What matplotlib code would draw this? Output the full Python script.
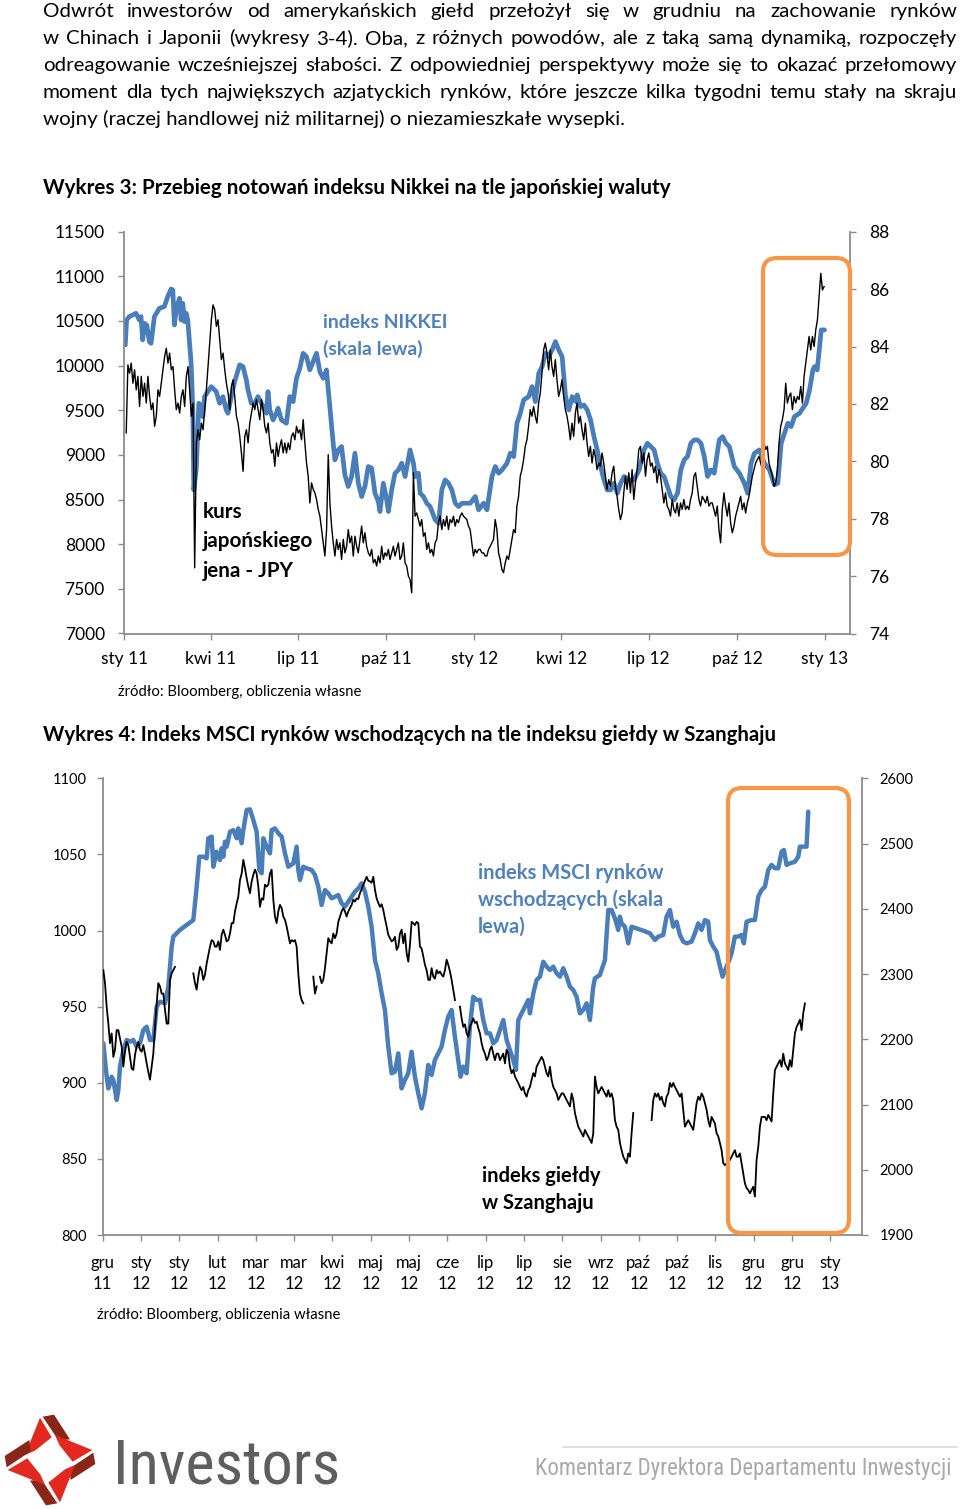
import numpy as np
import pandas as pd
import matplotlib
matplotlib.use("Agg")
import matplotlib.pyplot as plt
from matplotlib.patches import FancyBboxPatch, Polygon
from matplotlib import font_manager as fm

nan = float("nan")

# ---------------------------------------------------------------- text
body_lines = [
    "Odwrót inwestorów od amerykańskich giełd przełożył się w grudniu na zachowanie rynków",
    "w Chinach i Japonii (wykresy 3-4). Oba, z różnych powodów, ale z taką samą dynamiką, rozpoczęły",
    "odreagowanie wcześniejszej słabości. Z odpowiedniej perspektywy może się to okazać przełomowy",
    "moment dla tych największych azjatyckich rynków, które jeszcze kilka tygodni temu stały na skraju",
    "wojny (raczej handlowej niż militarnej) o niezamieszkałe wysepki.",
]
chart3_title = "Wykres 3: Przebieg notowań indeksu Nikkei na tle japońskiej waluty"
chart4_title = "Wykres 4: Indeks MSCI rynków wschodzących na tle indeksu giełdy w Szanghaju"
source_note = "źródło: Bloomberg, obliczenia własne"
nikkei_label = ["indeks NIKKEI", "(skala lewa)"]
jpy_label = ["kurs", "japońskiego", "jena - JPY"]
msci_label = ["indeks MSCI rynków", "wschodzących (skala", "lewa)"]
shanghai_label = ["indeks giełdy", "w Szanghaju"]
logo_text = "Investors"
footer_text = "Komentarz Dyrektora Departamentu Inwestycji"

# ---------------------------------------------------------------- chart 3 data
# Nikkei (left axis), days counted from 2011-01-01
nikkei_day = [
    1.0, 2.4, 5.2, 12.2, 15.7, 17.4, 19.2, 20.9, 23.4, 26.1, 27.9, 31.4, 36.6, 41.8, 45.3, 48.8,
    50.6, 52.3, 54.0, 57.5, 59.3, 61.0, 62.8, 64.5, 66.2, 69.7, 71.5, 72.5, 75.0, 77.8, 80.2, 81.9,
    83.7, 87.2, 90.7, 94.1, 95.9, 99.4, 102.9, 106.3, 108.1, 111.6, 115.1, 120.3, 123.8, 127.3,
    129.0, 132.5, 136.0, 139.5, 143.0, 148.2, 149.9, 151.7, 155.2, 158.6, 160.4, 163.9, 169.1,
    172.6, 176.1, 179.6, 183.1, 186.5, 190.0, 193.5, 197.0, 200.5, 204.0, 207.5, 210.9, 214.4,
    217.9, 219.7, 223.2, 226.6, 230.1, 233.6, 237.1, 240.6, 244.1, 247.6, 251.0, 254.5, 258.0,
    261.5, 265.0, 266.7, 270.2, 273.7, 275.5, 278.9, 282.4, 285.9, 289.4, 292.9, 298.1, 301.6,
    303.3, 306.8, 308.6, 312.1, 315.5, 319.0, 324.3, 327.8, 331.2, 334.7, 338.2, 341.7, 345.2,
    348.7, 352.2, 355.6, 360.9, 366.1, 369.6, 374.8, 378.3,
    383.5, 387.0, 390.5, 394.0, 399.2, 402.7, 406.2, 409.6, 413.1, 416.6, 421.8, 425.3, 428.8,
    432.3, 435.8, 439.2, 442.7, 446.2, 449.7, 453.2, 456.7, 460.3, 463.7, 467.2, 470.7, 472.4,
    475.9, 479.4, 482.9, 486.4, 489.9, 493.3, 496.8, 500.3, 503.8, 507.3, 510.8, 514.3, 517.8,
    521.3, 526.5, 531.7, 537.0, 542.2, 545.7, 549.2, 552.7, 556.1, 559.6, 563.1, 566.6, 570.1,
    573.6, 577.1, 580.5, 584.0, 587.5, 591.0, 594.5, 598.0, 601.5, 605.0, 608.4, 611.9, 615.4,
    620.6, 624.1, 627.6, 631.1, 636.3, 641.6, 646.8, 650.3, 653.8, 657.3, 662.5, 667.7, 673.0,
    678.2, 681.7, 685.2, 688.7, 692.2, 695.6, 699.1, 704.4, 707.8, 711.3, 714.8, 718.3, 720.0,
    722.8, 725.3, 727.0, 730.5,
]
nikkei_value = [
    10231, 10511, 10549, 10586, 10511, 10549, 10287, 10474, 10455, 10269, 10250, 10549, 10642,
    10661, 10772, 10858, 10847, 10455, 10623, 10754, 10511, 10698, 10493, 10586, 10511, 10026,
    9504, 8608, 8832, 9579, 9504, 9429, 9653, 9709, 9765, 9728, 9709, 9579, 9653, 9504, 9467,
    9653, 9821, 10008, 9989, 9840, 9728, 9579, 9579, 9653, 9579, 9467, 9709, 9504, 9392, 9467,
    9523, 9392, 9355, 9653, 9597, 9858, 9970, 10138, 10101, 9952, 10045, 10138, 9933, 9858, 9952,
    9541, 9131, 8944, 9056, 9094, 8776, 8646, 8758, 9019, 8683, 8534, 8646, 8870, 8851, 8571,
    8478, 8366, 8683, 8497, 8366, 8608, 8795, 8832, 8907, 8758, 9056, 8907, 8758, 8795, 8571,
    8534, 8459, 8422, 8273, 8235, 8608, 8720, 8683, 8608, 8459, 8422, 8459, 8459, 8459, 8534,
    8385, 8459, 8385,
    8758, 8870, 8795, 8832, 8907, 9019, 8982, 9355, 9467, 9616, 9653, 9765, 9597, 9914, 9989,
    10138, 10101, 10175, 10269, 10175, 10101, 9653, 9504, 9653, 9597, 9672, 9541, 9560, 9504,
    9392, 9205, 9056, 8870, 8720, 8608, 8608, 8683, 8571, 8683, 8758, 8720, 8720, 8832, 9056,
    9131, 9094, 9056, 8907, 8795, 8758, 8646, 8534, 8497, 8571, 8832, 8944, 8982, 9131, 9168,
    9168, 9131, 8982, 8758, 8832, 8795, 9168, 9205, 9131, 9094, 8870, 8795, 8683, 8571, 8907,
    9019, 9056, 8907, 8832, 8665, 8683, 9131, 9243, 9355, 9317, 9429, 9467, 9523, 9579, 9728,
    9952, 9989, 9952, 10213, 10400, 10400,
]
# JPY (right axis), equally spaced samples between these dates
jpy_start, jpy_end = "2011-01-03", "2012-12-31"
jpy_value = [
    80.99, 83.36, 83.07, 83.42, 82.72, 83.19, 82.49, 82.96, 81.91, 82.96,
    82.26, 82.72, 82.03, 82.96, 82.26, 81.80, 82.03, 81.22, 81.57, 82.49,
    82.26, 82.72, 83.19, 83.65, 83.94, 83.42, 83.77, 83.19, 83.30, 82.49,
    81.80, 82.03, 81.68, 82.26, 82.49, 81.91, 82.96, 83.30, 82.49, 81.57,
    82.03, 76.29, 80.64, 81.10, 80.75, 81.33, 81.10, 81.80, 82.49, 83.30,
    84.12, 84.93, 85.45, 85.28, 84.70, 84.93, 84.23, 83.54, 83.77, 83.19,
    82.72, 82.38, 81.80, 82.61, 82.84, 82.26, 81.57, 81.33, 80.87, 80.29,
    79.65, 80.87, 81.10, 80.64, 81.33, 81.68, 82.03, 81.80, 82.15, 81.80,
    81.45, 82.15, 81.80, 81.22, 80.99, 81.33, 80.64, 80.29, 80.41, 79.83,
    80.64, 80.17, 80.52, 80.75, 80.29, 80.64, 80.29, 80.64, 80.41, 80.87,
    80.99, 80.75, 81.22, 80.99, 81.10, 80.75, 81.45, 80.64, 79.94, 79.48,
    78.55, 79.25, 79.02, 78.90, 78.67, 78.32, 78.09, 77.62, 77.16, 76.70,
    77.62, 80.23, 78.55, 77.74, 77.16, 76.70, 77.28, 76.93, 77.16, 76.58,
    77.28, 76.81, 77.04, 77.62, 77.16, 77.39, 76.70, 77.39, 77.04, 76.81,
    77.28, 77.74, 77.16, 77.51, 77.04, 76.81, 76.70, 76.93, 76.46, 76.58,
    76.35, 76.70, 76.46, 77.04, 76.58, 76.81, 76.70, 76.93, 76.58, 76.81,
    77.04, 76.70, 76.93, 77.16, 76.58, 76.70, 77.16, 76.46, 76.35, 76.00,
    75.88, 75.42, 79.60, 78.09, 78.20, 77.97, 77.74, 77.97, 77.39, 77.51,
    76.93, 77.16, 76.81, 76.93, 76.70, 77.16, 77.28, 77.86, 78.09, 77.62,
    77.97, 77.74, 78.09, 77.62, 77.97, 77.86, 78.09, 77.74, 77.97, 77.86,
    78.09, 78.20, 78.09, 78.03, 77.97, 77.74, 77.62, 77.16, 76.70, 76.93,
    76.81, 76.93,
    76.93, 76.81, 76.81, 76.70, 76.70, 76.93, 77.04, 77.16, 77.28, 77.97,
    77.62, 76.81, 76.58, 76.23, 76.12, 76.46, 76.70, 76.58, 76.93, 77.28,
    77.62, 77.51, 78.44, 78.78, 79.48, 79.71, 80.06, 80.52, 80.75, 81.22,
    81.80, 81.57, 81.91, 81.57, 81.33, 82.03, 82.38, 83.07, 83.88, 84.12,
    83.77, 83.19, 83.88, 83.30, 82.96, 83.54, 82.84, 82.26, 82.49, 82.84,
    82.26, 81.80, 81.57, 81.22, 80.75, 81.33, 80.87, 81.68, 82.03, 81.33,
    81.57, 81.10, 80.75, 81.33, 80.64, 80.17, 80.52, 79.94, 80.41, 80.17,
    79.71, 79.94, 79.83, 80.29, 79.94, 79.48, 79.02, 79.36, 79.13, 79.60,
    79.83, 79.13, 78.78, 78.32, 77.97, 78.20, 78.90, 79.48, 79.02, 79.60,
    78.90, 79.71, 78.67, 79.25, 79.71, 80.41, 80.52, 79.94, 80.29, 79.48,
    80.06, 80.29, 79.83, 79.94, 79.60, 79.83, 79.25, 79.71, 79.48, 79.02,
    78.55, 78.90, 78.44, 78.32, 78.09, 78.67, 78.32, 78.20, 78.55, 78.09,
    78.55, 78.32, 78.67, 78.32, 78.44, 78.32, 78.67, 78.90, 79.48, 79.60,
    79.13, 78.67, 78.44, 78.78, 78.67, 78.55, 78.78, 78.44, 78.55, 78.55,
    78.32, 78.09, 78.44, 77.62, 77.16, 78.32, 78.90, 78.44, 78.09, 78.55,
    77.86, 77.51, 77.74, 78.09, 78.32, 78.55, 78.78, 78.32, 78.55, 78.20,
    78.55, 78.78, 79.13, 79.48, 79.71, 79.94, 80.06, 80.17, 79.94, 79.71,
    80.64, 80.41, 80.52, 79.94, 79.71, 79.48, 79.13, 79.25, 79.71, 80.64,
    81.22, 81.45, 81.80, 82.72, 82.03, 82.26, 82.38, 81.80, 82.26, 82.03,
    82.26, 82.15, 82.61, 82.03, 82.96, 83.42, 83.88, 84.35, 83.88, 84.35,
    84.00, 84.58, 84.93, 85.74, 86.55, 85.97, 86.09,
]
chart3_tick_dates = ["2011-01-01", "2011-04-01", "2011-07-01", "2011-10-01", "2012-01-01",
                     "2012-04-01", "2012-07-01", "2012-10-01", "2013-01-01"]
chart3_tick_labels = ["sty 11", "kwi 11", "lip 11", "paź 11", "sty 12", "kwi 12", "lip 12",
                      "paź 12", "sty 13"]
chart3_left_ticks = [7000, 7500, 8000, 8500, 9000, 9500, 10000, 10500, 11000, 11500]
chart3_right_ticks = [74, 76, 78, 80, 82, 84, 86, 88]

# ---------------------------------------------------------------- chart 4 data
# position measured in label steps of the category axis (0 = "gru 11")
msci_pos = [
    0.017, 0.060, 0.104, 0.147, 0.191, 0.234, 0.278, 0.321, 0.365, 0.408,
    0.452, 0.539, 0.626, 0.713, 0.800, 0.887, 0.974, 1.061, 1.148, 1.235,
    1.322, 1.409, 1.496, 1.627, 1.714, 1.801, 1.844, 2.018, 2.192, 2.367,
    2.454, 2.523, 2.628, 2.714, 2.758, 2.845, 2.889, 2.976, 3.063, 3.106,
    3.150, 3.193, 3.237, 3.324, 3.411, 3.498, 3.541, 3.628, 3.672, 3.759,
    3.846, 3.933, 4.020, 4.090, 4.150, 4.194, 4.281, 4.368, 4.412, 4.499,
    4.586, 4.673, 4.760, 4.847, 4.977, 5.064, 5.108, 5.152, 5.239, 5.326,
    5.456, 5.543, 5.630, 5.717, 5.804, 5.891, 5.978, 6.065, 6.152, 6.239,
    6.326, 6.413, 6.500, 6.587, 6.674, 6.761, 6.848, 6.935, 7.022, 7.109,
    7.196, 7.283, 7.370, 7.457, 7.544, 7.631, 7.718, 7.805, 7.892, 7.979,
    8.066, 8.153, 8.240, 8.327, 8.414, 8.501, 8.588, 8.675, 8.762, 8.849,
    8.936, 9.023, 9.110, 9.197, 9.284, 9.345, 9.415, 9.502, 9.589, 9.676,
    9.763,
    9.851, 9.938, 10.025, 10.112, 10.199, 10.286, 10.373, 10.460, 10.547, 10.634,
    10.721, 10.791, 10.852, 10.939, 11.026, 11.113, 11.156, 11.244, 11.330, 11.418,
    11.505, 11.592, 11.679, 11.766, 11.853, 11.940, 12.027, 12.114, 12.201, 12.288,
    12.375, 12.462, 12.549, 12.636, 12.723, 12.810, 12.853, 12.984, 13.115, 13.202,
    13.289, 13.376, 13.463, 13.506, 13.550, 13.637, 13.724, 13.811, 13.941, 14.115,
    14.289, 14.420, 14.507, 14.637, 14.724, 14.811, 14.898, 14.985, 15.073, 15.160,
    15.247, 15.377, 15.464, 15.551, 15.638, 15.725, 15.812, 15.856, 15.943, 16.030,
    16.099, 16.186, 16.274, 16.361, 16.421, 16.508, 16.595, 16.682, 16.743, 16.814,
    16.944, 17.031, 17.118, 17.206, 17.293, 17.380, 17.467, 17.554, 17.641, 17.728,
    17.789, 17.858, 17.945, 18.076, 18.163, 18.206, 18.293, 18.380, 18.424,
]
msci_value = [
    925.9, 914.9, 904.0, 896.3, 899.6, 904.0, 901.8, 895.2, 888.7, 895.2,
    910.6, 921.6, 928.1, 927.0, 928.1, 923.7, 925.9, 934.7, 936.8, 928.1,
    928.1, 950.0, 953.3, 952.2, 963.1, 989.4, 996.0, 1000.4, 1003.6, 1006.9,
    1028.8, 1048.5, 1048.5, 1047.4, 1060.6, 1061.7, 1041.9, 1051.8, 1046.3, 1054.0,
    1048.5, 1058.4, 1055.1, 1064.9, 1066.0, 1060.6, 1067.1, 1057.3, 1066.0, 1079.2,
    1079.6, 1072.6, 1064.9, 1039.8, 1037.6, 1060.6, 1055.1, 1050.7, 1066.0, 1067.1,
    1063.9, 1061.7, 1050.7, 1041.9, 1044.1, 1055.1, 1039.8, 1033.2, 1041.9, 1040.9,
    1039.8, 1036.5, 1028.8, 1016.8, 1026.6, 1024.4, 1021.2, 1022.2, 1023.3, 1017.9,
    1015.7, 1019.0, 1022.2, 1025.5, 1027.7, 1031.0, 1025.5, 1015.7, 1002.5, 980.6,
    971.9, 958.8, 947.8, 923.7, 906.2, 907.3, 919.3, 896.3, 901.8, 906.2,
    920.4, 904.0, 893.1, 883.2, 893.1, 911.7, 905.1, 915.0, 919.3, 923.7,
    934.7, 943.4, 947.8, 930.3, 914.9, 904.0, 910.6, 906.2, 936.9, 956.5,
    954.4,
    954.4, 941.2, 932.5, 932.5, 925.9, 928.1, 934.7, 941.2, 928.1, 921.5,
    914.9, 908.4, 941.2, 945.6, 950.0, 954.4, 945.6, 958.7, 967.5, 969.7,
    979.5, 976.3, 974.1, 976.3, 971.9, 969.7, 975.2, 969.7, 963.1, 960.9,
    956.5, 945.6, 947.8, 952.2, 941.2, 963.1, 968.6, 970.8, 980.6, 1013.5,
    1013.5, 1008.0, 1000.4, 1009.1, 1004.7, 1002.5, 991.6, 1002.5, 1001.4, 999.9,
    998.2, 993.8, 996.0, 997.1, 1009.1, 1013.5, 1002.5, 1005.8, 997.1, 992.7,
    991.6, 992.7, 998.2, 1004.7, 1000.4, 1006.9, 1005.8, 993.8, 989.4, 986.1,
    978.5, 969.7, 975.2, 980.6, 985.0, 996.0, 996.0, 997.1, 991.6, 1005.8,
    1006.9, 1006.9, 1022.2, 1026.6, 1028.8, 1039.8, 1043.1, 1040.9, 1040.9, 1051.8,
    1052.9, 1043.1, 1044.1, 1045.2, 1048.5, 1055.1, 1055.1, 1055.1, 1078.1,
]
# Shanghai index (right axis): equally spaced samples, nan = no session
shanghai_first_pos, shanghai_last_pos = 0.0165, 18.337
shanghai_value = [
    2306, 2286, 2250, 2224, 2194, 2209, 2173, 2184, 2214, 2214,
    2201, 2189, 2158, 2181, 2196, 2191, 2173, 2155, 2153, 2176,
    2189, 2196, 2184, 2181, 2191, 2178, 2163, 2150, 2138, 2158,
    2178, 2219, 2255, 2286, 2281, 2270, 2270, 2245, 2224, 2224,
    2291, 2301, 2306, 2311,
    nan, nan, nan, nan, nan, nan, nan, nan, nan, nan,
    2301, 2286, 2276, 2296, 2311, 2306, 2291, 2299, 2316, 2329,
    2342, 2352, 2350, 2342, 2342, 2350, 2337, 2360, 2368, 2360,
    2350, 2352, 2362, 2378, 2378, 2396, 2408, 2419, 2444, 2454,
    2475, 2462, 2447, 2434, 2424, 2442, 2452, 2460, 2454, 2434,
    2403, 2416, 2414, 2437, 2434, 2437, 2454, 2460, 2414, 2388,
    2378, 2396, 2406, 2401, 2388, 2383, 2373, 2360, 2347, 2352,
    2350, 2352, 2342, 2301, 2270, 2260, 2255,
    nan, nan, nan, nan, nan,
    2296, 2270, 2281, nan,
    2296, 2286, 2291, 2309, 2332, 2355, 2350, 2347, 2362, 2355,
    2362, 2380, 2388, 2396, 2401, 2396, 2388, 2396, 2401, 2406,
    2414, 2411, 2416, 2415, 2424, 2430, 2437, 2443, 2449, 2443,
    2442, 2440, 2449, 2429, 2416, 2409, 2403, 2407, 2398, 2385,
    2373, 2360, 2355, 2350, 2352, 2357, 2337, 2342, 2362, 2368,
    2347, 2362, 2332, 2319, 2345, 2380, 2378, 2375, 2380, 2378,
    2342, 2339, 2327, 2314, 2306, 2291, 2291, 2309, 2296, 2293,
    2306, 2301, 2304, 2299, 2296, 2306, 2322, 2314, 2304, 2291,
    2276, 2260, nan, nan,
    2250, 2232, 2219, 2223, 2209, 2204, 2219, 2225, 2232, 2225,
    2227, 2217,
    2209, 2194, 2184, 2178, 2168, 2173, 2184, 2189, 2178, 2168,
    2178, 2178, 2168, 2173, 2178, 2163, 2184, 2178, 2158, 2148,
    2153, 2143, 2138, 2133, 2127, 2122, 2127, 2117, 2112, 2122,
    2127, 2138, 2148, 2143, 2158, 2163, 2168, 2173, 2168, 2158,
    2148, 2143, 2158, 2138, 2127, 2122, 2117, 2107, 2112, 2117,
    2117, 2112, 2107, 2102, 2097, 2117, 2107, 2087, 2076, 2066,
    2061, 2056, 2051, 2061, 2056, 2051, 2046, 2041, 2056, 2143,
    2127, 2117, 2122, 2127, 2122, 2117, 2112, 2122, 2112, 2117,
    2107, 2076, 2066, 2061, 2041, 2030, 2020, 2015, 2010, 2025,
    2020, 2056, 2087,
    nan, nan, nan, nan, nan, nan, nan, nan, nan, nan,
    2076, 2107, 2117, 2112, 2117, 2107, 2112, 2102, 2097, 2112,
    2117, 2133, 2127, 2133, 2127, 2122, 2117, 2112, 2117, 2092,
    2066, 2071, 2076, 2071, 2066, 2061, 2081, 2102, 2112, 2107,
    2117, 2112, 2102, 2092, 2076, 2066, 2081, 2076, 2071, 2056,
    2051, 2041, 2030, 2010, 2007, 2010, 2012, 2015, 2020, 2025,
    2030, 2020, 2020, 2025, 2010, 1995, 1979, 1972, 1969, 1964,
    1969, 1974, 1959, 2015, 2035, 2066, 2081, 2081, 2081, 2076,
    2084, 2079, 2074, 2117, 2153, 2158, 2163, 2168, 2158, 2178,
    2163, 2158, 2153, 2168, 2158, 2184, 2209, 2219, 2224, 2230,
    2214, 2240, 2255,
]
chart4_tick_labels = ["gru 11", "sty 12", "sty 12", "lut 12", "mar 12", "mar 12", "kwi 12",
                      "maj 12", "maj 12", "cze 12", "lip 12", "lip 12", "sie 12", "wrz 12",
                      "paź 12", "paź 12", "lis 12", "gru 12", "gru 12", "sty 13"]
chart4_left_ticks = [800, 850, 900, 950, 1000, 1050, 1100]
chart4_right_ticks = [1900, 2000, 2100, 2200, 2300, 2400, 2500, 2600]

# ---------------------------------------------------------------- style
BLUE = "#4a7ebb"
BLUE_TXT = "#4f81bd"
GRAY = "#8c8c8c"
ORANGE = "#f79646"
W, H = 960, 1509


def has_font(name):
    try:
        fm.findfont(fm.FontProperties(family=name), fallback_to_default=False)
        return True
    except Exception:
        return False


BODY = "Lato" if has_font("Lato") else "DejaVu Sans"
NARROW = next((f for f in ["Liberation Sans Narrow", "Roboto Condensed", "Roboto",
                           "Liberation Sans"] if has_font(f)), "DejaVu Sans")
plt.rcParams["font.family"] = [BODY, "DejaVu Sans"]

fig = plt.figure(figsize=(W / 100, H / 100), dpi=100)
renderer = fig.canvas.get_renderer()

ov = fig.add_axes([0, 0, 1, 1], zorder=10)
ov.set_xlim(0, W)
ov.set_ylim(H, 0)
ov.axis("off")


def text_width(s, **kw):
    t = ov.text(0, 0, s, **kw)
    w = t.get_window_extent(renderer).width
    t.remove()
    return w


def fit_size(s, width, **kw):
    return 20.0 * width / text_width(s, fontsize=20, **kw)


def put(x, y, s, fs, **kw):
    return ov.text(x, y, s, fontsize=fs, ha="left", va="baseline", **kw)


# ---------------------------------------------------------------- paragraph (justified)
PX0, PX1 = 43, 957
body_base = [17, 44, 71, 98, 125]
fs_body = fit_size(body_lines[4], 587)
for ln in body_lines[:4]:
    n = len(ln.split())
    lim = fit_size(ln, (PX1 - PX0) - 2 * (n - 1))
    fs_body = min(fs_body, lim)
for i, ln in enumerate(body_lines):
    if i == 4:
        put(PX0, body_base[i], ln, fs_body, color="black")
        continue
    words = ln.split()
    widths = [text_width(w, fontsize=fs_body) for w in words]
    gap = (PX1 - PX0 - sum(widths)) / (len(words) - 1)
    x = PX0
    for w, wd in zip(words, widths):
        put(x, body_base[i], w, fs_body, color="black")
        x += wd + gap

# ---------------------------------------------------------------- titles and notes
fs_t3 = fit_size(chart3_title, 627, fontweight="bold")
put(43, 194, chart3_title, fs_t3, fontweight="bold", color="black")
fs_t4 = fit_size(chart4_title, 733, fontweight="bold")
put(43, 741, chart4_title, fs_t4, fontweight="bold", color="black")
fs_src = fit_size(source_note, 244)
put(118, 696, source_note, fs_src, color="black")
put(97, 1319, source_note, fs_src, color="black")

# ---------------------------------------------------------------- chart 3
def style_pair(ax, axr, lab_fs_y, lab_fs_x, pad_l, pad_r, pad_x):
    for s in ["top", "right"]:
        ax.spines[s].set_visible(False)
    for s in ["top", "left", "bottom"]:
        axr.spines[s].set_visible(False)
    for sp in [ax.spines["left"], ax.spines["bottom"], axr.spines["right"]]:
        sp.set_color(GRAY)
        sp.set_linewidth(1.3)
    ax.tick_params(axis="y", direction="out", length=4, width=1, color=GRAY,
                   labelsize=lab_fs_y, pad=pad_l, labelcolor="black")
    axr.tick_params(axis="y", direction="out", length=4, width=1, color=GRAY,
                    labelsize=lab_fs_y, pad=pad_r, labelcolor="black")
    ax.tick_params(axis="x", direction="out", length=4, width=1, color=GRAY,
                   labelsize=lab_fs_x, pad=pad_x, labelcolor="black")
    ax.patch.set_visible(False)


ax3 = fig.add_axes([124.3 / W, 1 - 633.5 / H, (850 - 124.3) / W, (633.5 - 231.7) / H])
t0 = pd.Timestamp("2011-01-01")
nikkei_dates = t0 + pd.to_timedelta(nikkei_day, unit="D")
ax3.plot(nikkei_dates, nikkei_value, color=BLUE, lw=3.4,
         solid_joinstyle="round", solid_capstyle="round")
ax3.set_ylim(7000, 11500)
ax3.set_yticks(chart3_left_ticks)
ax3.set_xlim(t0, t0 + pd.Timedelta(days=757))
ax3.set_xticks(pd.to_datetime(chart3_tick_dates))
ax3.set_xticklabels(chart3_tick_labels)

ax3b = ax3.twinx()
jpy_dates = pd.date_range(jpy_start, jpy_end, periods=len(jpy_value))
ax3b.plot(jpy_dates, jpy_value, color="black", lw=1.0)
ax3b.set_ylim(74, 88)
ax3b.set_yticks(chart3_right_ticks)
ax3b.set_xlim(t0, t0 + pd.Timedelta(days=757))
style_pair(ax3, ax3b, 12.5, 12.5, 10, 9.5, 8.5)

# ---------------------------------------------------------------- chart 4
ax4 = fig.add_axes([102.7 / W, 1 - 1235 / H, (861.7 - 102.7) / W, (1235 - 778.3) / H])
ax4.plot(msci_pos, msci_value, color=BLUE, lw=3.2,
         solid_joinstyle="round", solid_capstyle="round")
ax4.set_xlim(0, 19.82)
ax4.set_ylim(800, 1100)
ax4.set_yticks(chart4_left_ticks)
ax4.set_xticks(range(len(chart4_tick_labels)))
ax4.set_xticklabels([s.replace(" ", "\n") for s in chart4_tick_labels])

ax4b = ax4.twinx()
shanghai_pos = np.linspace(shanghai_first_pos, shanghai_last_pos, len(shanghai_value))
ax4b.plot(shanghai_pos, shanghai_value, color="black", lw=1.3)
ax4b.set_ylim(1900, 2600)
ax4b.set_yticks(chart4_right_ticks)
style_pair(ax4, ax4b, 10.5, 12, 7.5, 9, 10.5)
for lab in ax4.get_xticklabels():
    lab.set_linespacing(1.4)

# ---------------------------------------------------------------- annotations
fs_a = fit_size(nikkei_label[0], 125, fontweight="bold")
put(323, 328, nikkei_label[0], fs_a, fontweight="bold", color=BLUE_TXT)
put(323, 355, nikkei_label[1], fs_a, fontweight="bold", color=BLUE_TXT)
fs_j = fit_size(jpy_label[1], 110, fontweight="bold")
for txt, yb in zip(jpy_label, [518, 547, 577]):
    put(203, yb, txt, fs_j, fontweight="bold", color="black")
fs_m = fit_size(msci_label[0], 185, fontweight="bold")
for txt, yb in zip(msci_label, [879, 906, 933]):
    put(478, yb, txt, fs_m, fontweight="bold", color=BLUE_TXT)
fs_s = fit_size(shanghai_label[0], 119, fontweight="bold")
for txt, yb in zip(shanghai_label, [1182, 1209]):
    put(482, yb, txt, fs_s, fontweight="bold", color="black")

# highlight boxes
for (bx, by, bw, bh) in [(763, 258, 87, 297), (728, 788, 121, 445)]:
    ov.add_patch(FancyBboxPatch((bx, by), bw, bh, boxstyle="round,pad=0,rounding_size=14",
                                fill=False, edgecolor=ORANGE, lw=3.0))

# ---------------------------------------------------------------- footer
cx, cy = 50, 1460
red_piece = [(-30, -127), (5, -68), (-45, -28), (-75, -15)]
dark_piece = [(-22, -130), (12, -136), (60, -62), (26, -58)]
for k in range(4):
    for piece, col in [(red_piece, "#e2281f"), (dark_piece, "#8a2618")]:
        pts = []
        for (px, py) in piece:
            for _ in range(k):
                px, py = -py, px
            pts.append((cx + px / 3.0, cy + py / 3.0))
        ov.add_patch(Polygon(pts, closed=True, facecolor=col, edgecolor="none"))

fs_logo = fit_size(logo_text, 227, family=NARROW)
put(113, 1483, logo_text, fs_logo, family=NARROW, color="#5e5e5e")
ov.plot([563, 957], [1447, 1447], color="#d9d9d9", lw=1.2)
fs_foot = fit_size(footer_text, 415, family=NARROW)
put(535, 1475, footer_text, fs_foot, family=NARROW, color="#a9a9a9")

fig.savefig("out.png", dpi=100)
